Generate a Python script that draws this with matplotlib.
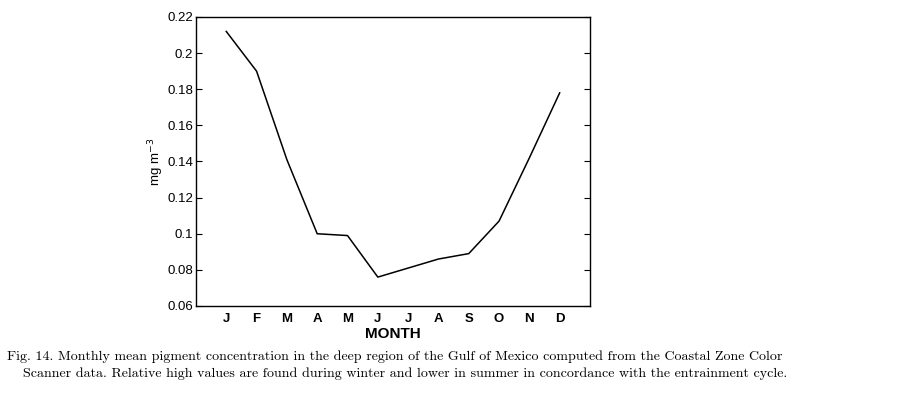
import matplotlib
matplotlib.use("Agg")
import matplotlib.pyplot as plt
from matplotlib.ticker import FixedLocator, FuncFormatter

months = [1, 2, 3, 4, 5, 6, 7, 8, 9, 10, 11, 12]
month_labels = ["J", "F", "M", "A", "M", "J", "J", "A", "S", "O", "N", "D"]
pigment = [0.212, 0.190, 0.141, 0.100, 0.099, 0.076, 0.081, 0.086, 0.089, 0.107, 0.142, 0.178]
yticks = [0.06, 0.08, 0.10, 0.12, 0.14, 0.16, 0.18, 0.20, 0.22]

caption_1 = ("Fig. 14. Monthly mean pigment concentration in the deep region of the Gulf of Mexico "
             "computed from the Coastal Zone Color")
caption_2 = ("Scanner data. Relative high values are found during winter and lower in summer "
             "in concordance with the entrainment cycle.")

plt.rcParams["font.family"] = ["Liberation Sans", "DejaVu Sans"]

fig = plt.figure(figsize=(9.14, 3.99), dpi=100)
ax = fig.add_axes([0.2144, 0.2331, 0.4311, 0.7243])

ax.plot(months, pigment, color="black", lw=1.1)

ax.set_xlim(0, 13)
ax.set_ylim(0.06, 0.22)

# labels on every month, tick marks only on even months (top and bottom)
ax.xaxis.set_major_locator(FixedLocator(months))
ax.set_xticklabels(month_labels, fontsize=9.5, fontweight="bold")
ax.xaxis.set_minor_locator(FixedLocator(months[1::2]))
ax.tick_params(axis="x", which="major", length=0, pad=5)
ax.tick_params(axis="x", which="minor", direction="in", length=4, top=True, bottom=True)

ax.yaxis.set_major_locator(FixedLocator(yticks))
ax.yaxis.set_major_formatter(FuncFormatter(lambda v, p: "%g" % round(v, 2)))
ax.tick_params(axis="y", direction="in", length=4, right=True, labelsize=9.5, pad=2)

for s in ax.spines.values():
    s.set_linewidth(1.0)

ax.set_xlabel("MONTH", fontsize=11, fontweight="bold", labelpad=1.5)
ax.set_ylabel("mg m$^{-3}$", fontsize=9.5, labelpad=1)

serif = ["cmr10", "DejaVu Serif"]
fig.text(0.0077, 0.123, caption_1, fontsize=10.08, family=serif, va="top", ha="left")
fig.text(0.0252, 0.079, caption_2, fontsize=10.08, family=serif, va="top", ha="left")

fig.savefig("out.png", dpi=100)
